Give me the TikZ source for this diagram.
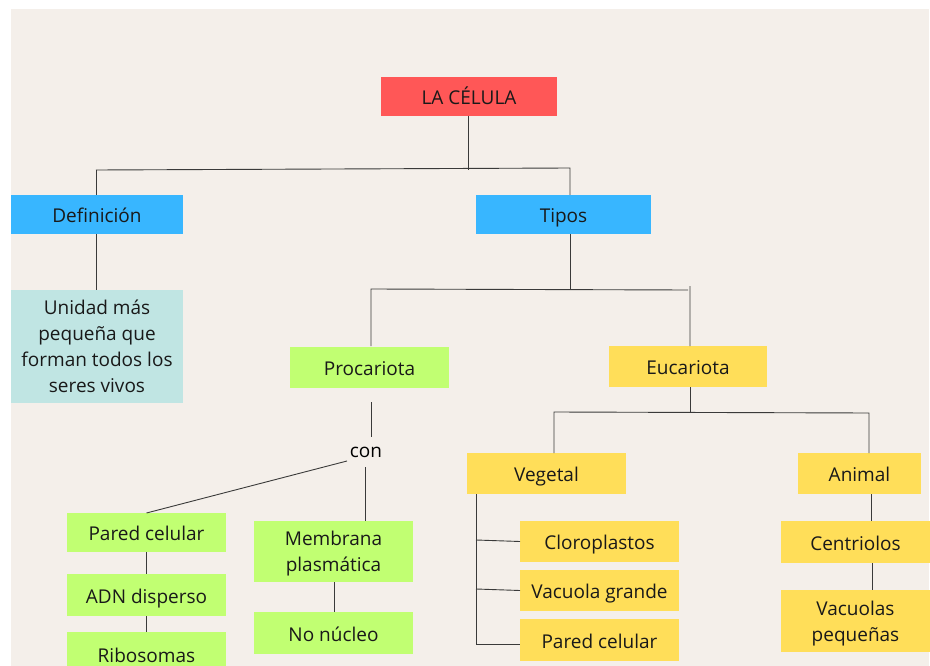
\documentclass[tikz,border=0pt]{standalone}
\usepackage{fontspec}
\setmainfont{Open Sans}
\definecolor{bgc}{HTML}{F4EFEA}
\definecolor{redc}{HTML}{FF5757}
\definecolor{bluec}{HTML}{38B6FF}
\definecolor{tealc}{HTML}{C0E5E3}
\definecolor{greenc}{HTML}{C1FF72}
\definecolor{yellowc}{HTML}{FFDE59}
\definecolor{linec}{HTML}{3A3A3A}
\begin{document}
\begin{tikzpicture}[x=1pt,y=-1pt,
  box/.style={inner sep=0pt, outer sep=0pt, align=center, font=\fontsize{19}{26}\selectfont, text=black!90, text depth=0pt},
  one/.style={box, text height=16pt},
  conn/.style={draw=linec, line width=0.9pt}]
\useasboundingbox (0,0) rectangle (930,666);
\fill[white] (0,0) rectangle (930,666);
\fill[bgc] (11,9) rectangle (929,666);
% boxes
\node[one, fill=redc, minimum width=176pt, minimum height=39pt] (cel) at (469,96.5) {LA CÉLULA};
\node[one, fill=bluec, minimum width=172pt, minimum height=39pt] (def) at (97,214.5) {Definición};
\node[one, fill=bluec, minimum width=175pt, minimum height=39pt] (tip) at (563.5,214.5) {Tipos};
\node[box, fill=tealc, minimum width=172pt, minimum height=113pt] (uni) at (97,346) {Unidad más\\pequeña que\\forman todos los\\seres vivos};
\node[one, fill=greenc, minimum width=159pt, minimum height=41pt] (pro) at (369.5,367.5) {Procariota};
\node[one, fill=yellowc, minimum width=158pt, minimum height=41pt] (euc) at (688,366.5) {Eucariota};
\node[one, text=black] (con) at (366,449) {con};
\node[one, fill=greenc, minimum width=159pt, minimum height=39pt] (pc1) at (146.5,532.5) {Pared celular};
\node[one, fill=greenc, minimum width=159pt, minimum height=42pt] (adn) at (146.5,595) {ADN disperso};
\node[one, fill=greenc, minimum width=159pt, minimum height=44pt, anchor=north] (rib) at (146.5,632) {Ribosomas};
\node[box, fill=greenc, minimum width=159pt, minimum height=61pt] (mem) at (333.5,551.5) {Membrana\\plasmática};
\node[one, fill=greenc, minimum width=159pt, minimum height=42pt] (nuc) at (333.5,633) {No núcleo};
\node[one, fill=yellowc, minimum width=159pt, minimum height=41pt] (veg) at (546.5,473.5) {Vegetal};
\node[one, fill=yellowc, minimum width=159pt, minimum height=41pt] (clo) at (599.5,541.5) {Cloroplastos};
\node[one, fill=yellowc, minimum width=159pt, minimum height=41pt] (vac) at (599.5,590.5) {Vacuola grande};
\node[one, fill=yellowc, minimum width=159pt, minimum height=42pt] (pc2) at (599.5,640) {Pared celular};
\node[one, fill=yellowc, minimum width=123pt, minimum height=41pt] (ani) at (859.5,473.5) {Animal};
\node[one, fill=yellowc, minimum width=149pt, minimum height=42pt] (cen) at (855.5,542) {Centriolos};
\node[box, fill=yellowc, minimum width=149pt, minimum height=62pt] (vpe) at (855.5,621) {Vacuolas\\pequeñas};
% junction coordinates
\coordinate (j1) at (468,170);
\coordinate (j2) at (570,289);
\coordinate (j3) at (690,412);
% connectors
\draw[conn] (cel.south -| j1) -- (j1);
\draw[conn] (96,170) -- (570,168) -- (tip.north -| 570,0);
\draw[conn] (96,170) -- (def.north -| 96,0);
\draw[conn] (def.south -| 96,0) -- (uni.north -| 96,0);
\draw[conn] (tip.south -| j2) -- (j2);
\draw[conn] (371,346) -- (371,289) -- (688,290) (690,286) -- (euc.north -| 690,0);
\draw[conn] (371,402) -- (371,437);
\draw[conn] (365,467) -- (mem.north -| 365,0);
\draw[conn] (347,461) -- (pc1.north);
\draw[conn] (pc1.south) -- (adn.north);
\draw[conn] (adn.south) -- (rib.north);
\draw[conn] (mem.south -| 334,0) -- (nuc.north -| 334,0);
\draw[conn] (euc.south -| j3) -- (j3);
\draw[conn] (veg.north -| 554,0) -- (554,412) -- (869,413) -- (ani.north -| 869,0);
\draw[conn] (veg.south -| 476,0) -- (476,644) -- (pc2.west |- 0,644);
\draw[conn] (476,540) -- (clo.west);
\draw[conn] (476,589) -- (vac.west);
\draw[conn] (ani.south -| 871,0) -- (cen.north -| 871,0);
\draw[conn] (cen.south -| 872,0) -- (vpe.north -| 872,0);
\end{tikzpicture}
\end{document}
